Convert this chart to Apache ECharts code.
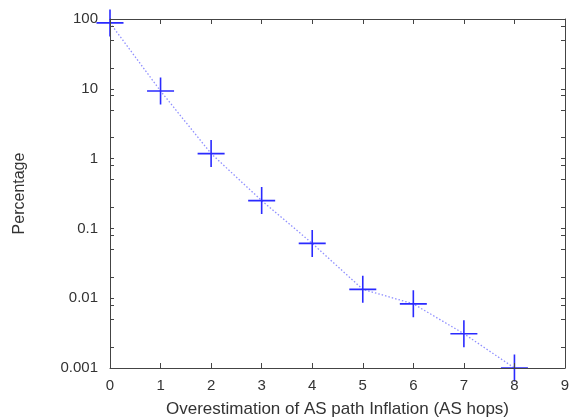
<!DOCTYPE html>
<html>
<head>
<meta charset="utf-8">
<script src="https://cdn.jsdelivr.net/npm/echarts@6/dist/echarts.min.js"></script>
<style>
  html, body { margin: 0; padding: 0; background: #fff; }
  #chart { width: 569px; height: 420px; }
</style>
</head>
<body>
<div id="chart"></div>
<script>
// Overestimation of AS path inflation, in AS hops
const hops = [0, 1, 2, 3, 4, 5, 6, 7, 8];
const percentage = [88, 9.3, 1.18, 0.25, 0.061, 0.0134, 0.0083, 0.0031, 0.001];

// Axis ranges and tick positions
const xTicks = [0, 1, 2, 3, 4, 5, 6, 7, 8, 9];
const yMajorTicks = [0.001, 0.01, 0.1, 1, 10, 100];
const yMinorTicks = [0.002, 0.005, 0.008, 0.02, 0.05, 0.08, 0.2, 0.5, 0.8,
                     2, 5, 8, 20, 50, 80];

const FONT = 'Liberation Sans, Arial, sans-serif';
const TEXT = '#333';
const AXIS = '#444';

const points = hops.map((h, i) => [h, percentage[i]]);
const yAllTicks = yMajorTicks.concat(yMinorTicks).sort((a, b) => a - b);
const logFmt = v => Number(Number(v).toPrecision(1)).toString();

const chart = echarts.init(document.getElementById('chart'), null, { renderer: 'canvas' });

const xBase = {
  type: 'value',
  min: xTicks[0],
  max: xTicks[xTicks.length - 1],
  interval: 1,
  splitLine: { show: false },
  axisLine: { show: true, onZero: false, lineStyle: { color: AXIS, width: 1 } },
  axisTick: { show: true, inside: true, length: 5, lineStyle: { color: AXIS } },
  z: 10
};

const yBase = {
  type: 'log',
  min: yMajorTicks[0],
  max: yMajorTicks[yMajorTicks.length - 1],
  splitLine: { show: false },
  axisLine: { show: true, onZero: false, lineStyle: { color: AXIS, width: 1 } },
  axisTick: { show: true, inside: true, length: 4, lineStyle: { color: AXIS },
              customValues: yAllTicks },
  z: 10
};

chart.setOption({
  animation: false,
  backgroundColor: '#fff',
  grid: { left: 110, right: 4, top: 19, bottom: 52, containLabel: false, outerBoundsMode: 'none' },
  xAxis: [
    Object.assign({}, xBase, {
      position: 'bottom',
      name: 'Overestimation of AS path Inflation (AS hops)',
      nameLocation: 'middle',
      nameGap: 33,
      nameTextStyle: { color: TEXT, fontFamily: FONT, fontSize: 17 },
      axisLabel: { color: TEXT, fontFamily: FONT, fontSize: 15, margin: 10 }
    }),
    Object.assign({}, xBase, {
      position: 'top',
      axisLabel: { show: false }
    })
  ],
  yAxis: [
    Object.assign({}, yBase, {
      position: 'left',
      name: 'Percentage',
      nameLocation: 'middle',
      nameGap: 82,
      nameTextStyle: { color: TEXT, fontFamily: FONT, fontSize: 16 },
      axisLabel: { color: TEXT, fontFamily: FONT, fontSize: 15, margin: 12,
                   customValues: yMajorTicks, formatter: logFmt }
    }),
    Object.assign({}, yBase, {
      position: 'right',
      axisLabel: { show: false }
    })
  ],
  series: [{
    type: 'line',
    xAxisIndex: 0,
    yAxisIndex: 0,
    data: points,
    clip: false,
    z: 2,
    lineStyle: { color: '#9090ff', width: 1.3, type: [1.5, 2] },
    symbol: 'path://M0,-10L0,10M-10,0L10,0',
    symbolSize: 27,
    showAllSymbol: true,
    itemStyle: { color: 'transparent', borderColor: '#2a2aff', borderWidth: 1.6 },
    emphasis: { disabled: true }
  }]
});
</script>
</body>
</html>
